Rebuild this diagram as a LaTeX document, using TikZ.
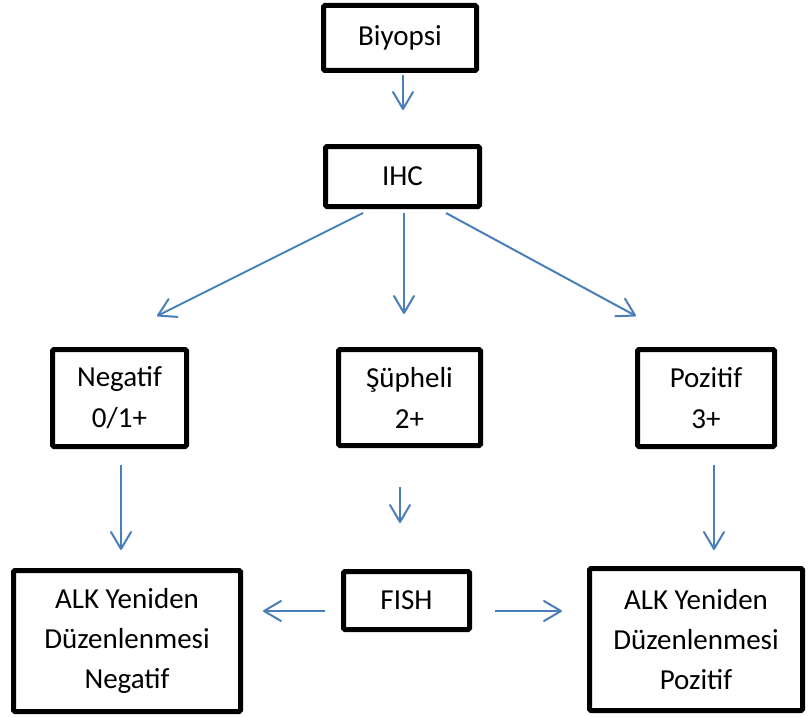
\documentclass[tikz,border=0pt]{standalone}
\usepackage{fontspec}
\setmainfont{Carlito}
\usetikzlibrary{arrows.meta}
\definecolor{arrblue}{HTML}{4A7EBB}
\tikzset{
  box/.style={draw=black, line width=5pt, rounded corners=1.5pt, fill=white, align=center,
    inner sep=0pt, font=\fontsize{29}{41}\selectfont},
  arr/.style={draw=arrblue, line width=2pt,
    -{Straight Barb[length=17pt, width=20pt, line cap=round, line join=round]}},
}
\begin{document}
\begin{tikzpicture}[x=1pt,y=-1pt]
\useasboundingbox (0,0) rectangle (809,717);
% boxes (size = outer size minus line width)
\node[box, minimum width=153pt, minimum height=65pt] (bio) at (400,38) {Biyopsi};
\node[box, minimum width=154pt, minimum height=60pt] (ihc) at (402.5,176.5) {IHC};
\node[box, minimum width=134pt, minimum height=97pt] (neg) at (119.5,398) {Negatif\\0/1+};
\node[box, minimum width=142pt, minimum height=96pt] (sup) at (409.5,397.5) {Şüpheli\\2+};
\node[box, minimum width=137pt, minimum height=97pt] (poz) at (706,398) {Pozitif\\3+};
\node[box, minimum width=227pt, minimum height=141pt, font=\fontsize{29}{40}\selectfont] (alkn) at (127,641) {ALK Yeniden\\Düzenlenmesi\\Negatif};
\node[box, minimum width=126pt, minimum height=58pt] (fish) at (406.5,600.5) {FISH};
\node[box, minimum width=213pt, minimum height=142pt, font=\fontsize{29}{40}\selectfont] (alkp) at (696,639.5) {ALK Yeniden\\Düzenlenmesi\\Pozitif};
% connectors
\draw[arr] ([xshift=3pt,yshift=-2pt]bio.south) -- ([xshift=0.5pt,yshift=34pt]ihc.north);
\draw[arr] ([xshift=-39.5pt,yshift=-4pt]ihc.south) -- ([xshift=37.5pt,yshift=31pt]neg.north);
\draw[arr] ([xshift=1.5pt,yshift=-4pt]ihc.south) -- ([xshift=-5.5pt,yshift=33pt]sup.north);
\draw[arr] ([xshift=43.5pt,yshift=-4pt]ihc.south) -- ([xshift=-70pt,yshift=31pt]poz.north);
\draw[arr] ([xshift=1.5pt,yshift=-16pt]neg.south) -- ([xshift=-6pt,yshift=18pt]alkn.north);
\draw[arr] ([xshift=-9.5pt,yshift=-39pt]sup.south) -- ([xshift=-6.5pt,yshift=46pt]fish.north);
\draw[arr] ([xshift=8pt,yshift=-16pt]poz.south) -- ([xshift=18pt,yshift=16pt]alkp.north);
\draw[arr] ([xshift=-16pt,yshift=-10.5pt]fish.west) -- ([xshift=20pt,yshift=30pt]alkn.east);
\draw[arr] ([xshift=23pt,yshift=-10.5pt]fish.east) -- ([xshift=-25pt,yshift=28.5pt]alkp.west);
\end{tikzpicture}
\end{document}
